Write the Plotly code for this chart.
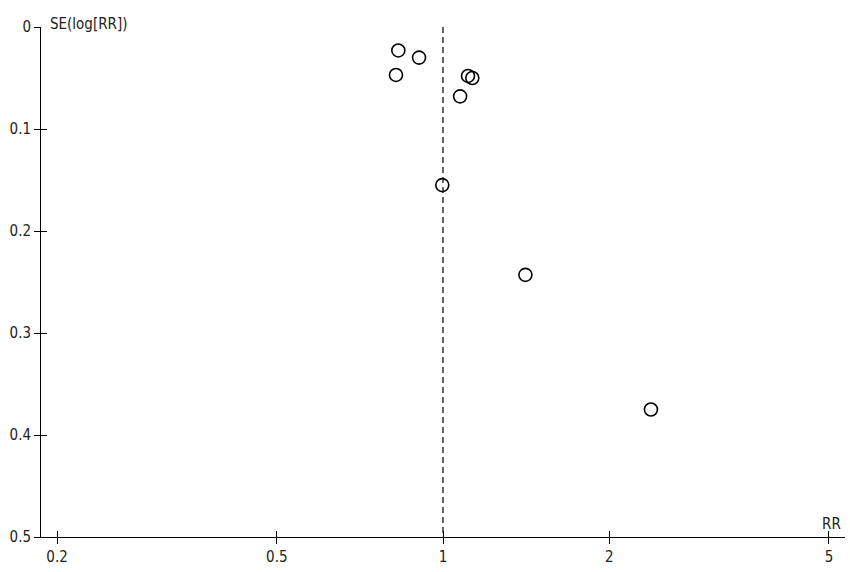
import plotly.graph_objects as go

# Funnel plot values
rr = [0.83, 0.905, 0.822, 1.11, 1.13, 1.074, 0.997, 1.41, 2.38]
se_log_rr = [0.023, 0.030, 0.047, 0.048, 0.050, 0.068, 0.155, 0.243, 0.375]

x_ticks = [0.2, 0.5, 1, 2, 5]
x_tick_text = ["0.2", "0.5", "1", "2", "5"]
y_ticks = [0, 0.1, 0.2, 0.3, 0.4, 0.5]
y_tick_text = ["0", "0.1", "0.2", "0.3", "0.4", "0.5"]

FONT = "Liberation Sans Narrow, DejaVu Sans Condensed, Arial Narrow, Liberation Sans"
x_range = [-0.728, 0.728]
y_range = [0.5, 0]

fig = go.Figure()

# null line at RR = 1
fig.add_trace(go.Scatter(
    x=[1, 1], y=[0, 0.5], mode="lines",
    line=dict(color="black", width=1.2, dash="6px,4px"),
    hoverinfo="skip", showlegend=False,
))

fig.add_trace(go.Scatter(
    x=rr, y=se_log_rr, mode="markers",
    marker=dict(symbol="circle-open", size=13, color="black", line=dict(width=1.6)),
    showlegend=False,
))

axis_common = dict(showgrid=False, zeroline=False, showline=True, linecolor="black",
                   linewidth=1, tickcolor="black", ticklen=6, tickwidth=1, automargin=False,
                   tickfont=dict(family=FONT, size=15, color="#222222"))

fig.update_layout(
    width=850, height=572,
    margin=dict(l=41, r=5, t=27, b=35),
    paper_bgcolor="white", plot_bgcolor="white",
    xaxis=dict(type="log", range=x_range, tickvals=x_ticks, ticktext=x_tick_text,
               ticks="outside", **axis_common),
    yaxis=dict(range=y_range, tickvals=y_ticks, ticktext=y_tick_text,
               ticks="outside", **axis_common),
    # second pair of axes only to draw the inner half of the crossing ticks
    xaxis2=dict(type="log", range=x_range, tickvals=x_ticks, showticklabels=False,
                ticks="inside", overlaying="x", side="bottom", anchor="y",
                showgrid=False, zeroline=False, showline=False, automargin=False,
                tickcolor="black", ticklen=6, tickwidth=1),
    yaxis2=dict(range=y_range, tickvals=y_ticks, showticklabels=False,
                ticks="inside", overlaying="y", side="left", anchor="x",
                showgrid=False, zeroline=False, showline=False, automargin=False,
                tickcolor="black", ticklen=6, tickwidth=1),
)

fig.add_trace(go.Scatter(x=[1], y=[0.5], xaxis="x2", yaxis="y2", mode="markers",
                         marker=dict(opacity=0), hoverinfo="skip", showlegend=False))

fig.add_annotation(text="SE(log[RR])", xref="paper", yref="paper", x=0, y=1,
                   xanchor="left", yanchor="bottom", xshift=7, yshift=-8, showarrow=False,
                   font=dict(family=FONT, size=15, color="#222222"))
fig.add_annotation(text="RR", xref="paper", yref="paper", x=1, y=0,
                   xanchor="right", yanchor="bottom", xshift=-2, yshift=2, showarrow=False,
                   font=dict(family=FONT, size=15, color="#222222"))

# page body has an 8px default margin; drop it so the figure sits at the corner
fig.write_html("out.html", config={"displayModeBar": False},
               post_script="document.body.style.margin='0';")
